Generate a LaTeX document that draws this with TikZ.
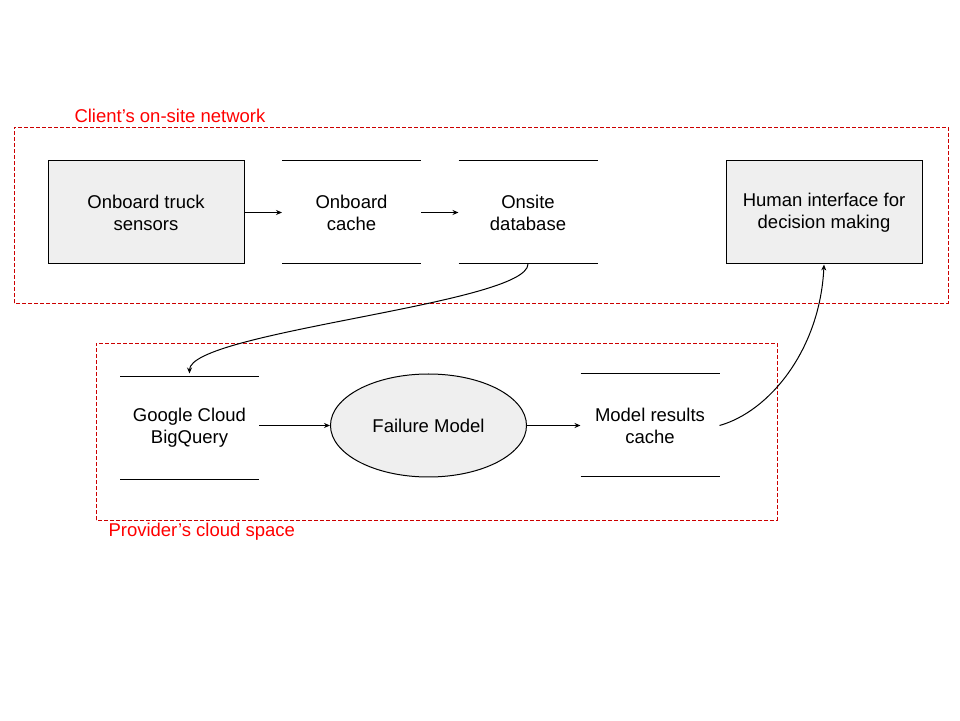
\documentclass[tikz,border=0pt]{standalone}
\usepackage{fontspec}
\setmainfont{Liberation Sans}
\usetikzlibrary{positioning, chains, shapes.geometric, arrows.meta}
\definecolor{boxgray}{HTML}{EFEFEF}
\definecolor{zonered}{HTML}{CC0000}
\definecolor{labelred}{HTML}{FF0000}

\begin{document}
\begin{tikzpicture}[x=1pt, y=1pt, line width=1pt,
   font=\fontsize{18.5}{22}\selectfont,
   start chain = going right, node distance = 37.5pt,
   >={Stealth[length=6pt, width=5pt, inset=2pt]},
   box/.style = {draw, fill=boxgray, minimum width=196pt, minimum height=103pt, align=center},
   store/.style = {minimum width=138pt, minimum height=102pt, align=center},
   zone/.style = {draw=zonered, dash pattern=on 4pt off 2pt, line width=0.8pt},
   zonetitle/.style = {text=labelred, anchor=base west, inner sep=0pt}]
   \useasboundingbox (0,0) rectangle (960,720);

   % client side
   \draw[zone] (14,417) rectangle (948,593);
   \node[zonetitle] (clientlbl) at (74,597.3) {Client’s on-site network};
   \node[box, on chain]   (sensors) at (146,507.5) {Onboard truck\\sensors};
   \node[store, on chain] (cache)  {Onboard\\cache};
   \node[store, on chain] (onsite) {Onsite\\database};
   \node[box] (hmi) at (824,507.5) {Human interface for\\decision making};

   % provider side
   \draw[zone] (96,200) rectangle (777,377);
   \node[zonetitle] (cloudlbl) at (108,183.3) {Provider’s cloud space};
   \node[store] (bq) at (189.5,292) {Google Cloud\\BigQuery};
   \node[ellipse, draw, fill=boxgray, minimum width=196pt, minimum height=103pt]
      (fail) at (428.5,294.5) {Failure Model};
   \node[store] (results) at (650,294.5) {Model results\\cache};

   % data stores: open lines top and bottom
   \foreach \s in {cache, onsite, bq, results}
      \draw (\s.north west) -- (\s.north east) (\s.south west) -- (\s.south east);

   \draw[->] (sensors) -- (cache);
   \draw[->] (cache) -- (onsite);
   \draw[->] (bq.east |- fail.west) -- (fail);
   \draw[->] (fail) -- (results);
   \draw[->, shorten >=3pt] (onsite.south) .. controls +(0,-40) and +(0,45) .. (bq.north);
   \draw[->] (results.east) .. controls +(50,14) and +(-4,-85) .. (hmi.south);
\end{tikzpicture}
\end{document}
